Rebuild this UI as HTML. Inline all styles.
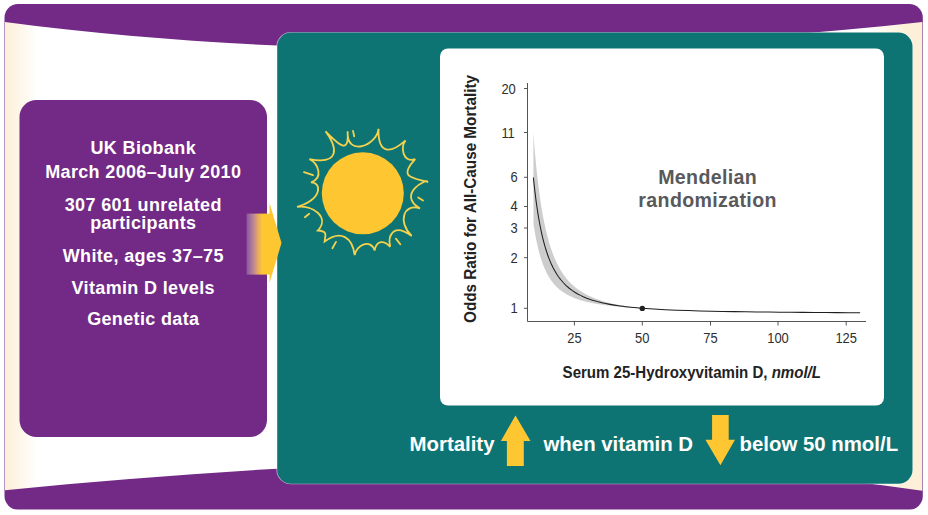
<!DOCTYPE html>
<html><head><meta charset="utf-8">
<style>
html,body{margin:0;padding:0;width:928px;height:515px;overflow:hidden;background:#fff;}
body{position:relative;font-family:"Liberation Sans",sans-serif;}
svg{position:absolute;left:0;top:0;}
.t{position:absolute;white-space:nowrap;font-weight:bold;color:#fff;}
.pt{left:19.5px;width:247.5px;text-align:center;font-size:18px;letter-spacing:0.35px;line-height:20px;}
.bt{font-size:20.4px;line-height:24px;margin-top:1px;}
</style></head><body>
<svg width="928" height="515" viewBox="0 0 928 515">
<defs>
<linearGradient id="pg" x1="5" y1="0" x2="922" y2="0" gradientUnits="userSpaceOnUse">
<stop offset="0" stop-color="#fcefd6"/>
<stop offset="0.035" stop-color="#fff"/>
<stop offset="0.94" stop-color="#fff"/>
<stop offset="0.982" stop-color="#fdf0d8"/>
<stop offset="1" stop-color="#fdf0d8"/>
</linearGradient>
<linearGradient id="ag" x1="246.6" y1="0" x2="266.6" y2="0" gradientUnits="userSpaceOnUse">
<stop offset="0" stop-color="#8c579b"/>
<stop offset="0.3" stop-color="#b4809a"/>
<stop offset="0.58" stop-color="#e8ac5e"/>
<stop offset="0.8" stop-color="#fec732"/>
<stop offset="1" stop-color="#fec732"/>
</linearGradient>
</defs>
<rect x="4.5" y="4" width="918.3" height="505.6" rx="13.5" fill="#722a86"/>
<path d="M5,22 C305,61.4 621.6,54.7 922.3,22 L922.3,490.7 C620.5,445.3 305,460.6 5,490.2 Z" fill="url(#pg)"/>
<rect x="19.5" y="100" width="247.5" height="337" rx="17" fill="#722a86"/>
<rect x="276.4" y="31.9" width="636.5" height="452.4" rx="14.6" fill="#fff" opacity="0.6"/>
<rect x="277.2" y="32.6" width="635.3" height="451.2" rx="14" fill="#0e7373"/>
<rect x="246.6" y="213.6" width="24" height="61" fill="url(#ag)"/>
<path d="M269.5,203 L281.5,243 L269.5,283 Z" fill="#fec732"/>
<rect x="440" y="48.5" width="444" height="357" rx="8" fill="#fff"/>
<circle cx="362.8" cy="193.3" r="41" fill="#fec732"/>
<path d="M325.5,131.3 C339.4,145.4 349.3,154.7 347.6,131.3 C346.3,157.7 377.0,145.4 378.5,128.8 C377.8,157.3 392.8,151.8 405.6,140.4 C399.9,146.9 403.0,163.7 415.2,159.1 C397.7,178.0 413.2,177.8 427.4,181.8 C428.4,177.8 395.7,194.0 420.0,208.5 C403.7,202.7 397.3,221.7 411.7,236.0 C392.3,222.1 387.8,236.7 390.2,246.8 C384.0,240.1 376.5,239.8 374.6,250.6 C370.8,238.3 356.2,244.8 354.7,255.1 C352.4,237.4 341.0,229.3 324.6,241.5 C325.4,234.7 328.0,231.3 317.8,230.5 C330.1,217.3 313.0,204.9 297.0,206.8 C322.8,199.1 321.8,182.3 311.0,182.3 C323.9,178.3 318.2,163.1 309.4,159.1 C340.5,165.0 337.5,147.5 325.5,131.3Z M353,130.9 L354.2,136.3 M418.2,197.5 L423,200.5 M395.9,238.6 L400.3,244.2 M336,241.9 L332.4,248.3 M304.9,217.3 L309.2,213.8 M304,172.2 L313,175.2" fill="none" stroke="#f3d24e" stroke-width="1.8" stroke-linejoin="miter" stroke-miterlimit="3" stroke-linecap="round"/>
<!-- chart -->
<polygon points="533.40,132.60 534.22,144.16 534.92,152.42 535.62,160.10 536.32,167.25 537.02,173.91 537.72,180.13 538.42,185.95 539.12,191.40 539.82,196.52 540.52,201.32 541.22,205.84 541.92,210.10 542.62,214.11 543.32,217.90 544.02,221.47 544.72,224.86 545.42,228.06 546.12,231.10 546.82,233.98 547.52,236.72 548.22,239.32 548.92,241.80 549.62,244.15 550.32,246.40 551.02,248.54 551.72,250.58 552.42,252.53 553.12,254.39 553.82,256.17 554.52,257.88 555.22,259.51 555.92,261.08 556.62,262.58 557.32,264.01 558.02,265.39 558.72,266.72 559.42,267.99 560.12,269.22 560.82,270.40 563.63,274.70 566.44,278.42 569.25,281.65 572.06,284.48 574.87,286.96 577.68,289.17 580.49,291.12 583.30,292.87 586.11,294.44 588.92,295.85 591.73,297.12 594.54,298.27 597.35,299.32 600.16,300.28 602.96,301.16 605.77,301.96 608.58,302.70 611.39,303.38 614.20,304.00 617.01,304.58 619.82,305.12 622.63,305.62 625.44,306.09 628.25,306.52 631.06,306.92 633.87,307.30 636.68,307.66 639.49,307.99 642.30,308.30 642.30,308.30 639.49,308.14 636.68,307.97 633.87,307.78 631.06,307.59 628.25,307.39 625.44,307.18 622.63,306.95 619.82,306.70 617.01,306.44 614.20,306.17 611.39,305.87 608.58,305.54 605.77,305.20 602.96,304.82 600.16,304.41 597.35,303.97 594.54,303.48 591.73,302.95 588.92,302.36 586.11,301.71 583.30,300.99 580.49,300.18 577.68,299.28 574.87,298.27 572.06,297.12 569.25,295.81 566.44,294.31 563.63,292.58 560.82,290.57 560.12,290.01 559.42,289.44 558.72,288.84 558.02,288.22 557.32,287.56 556.62,286.89 555.92,286.18 555.22,285.44 554.52,284.66 553.82,283.85 553.12,283.00 552.42,282.11 551.72,281.18 551.02,280.21 550.32,279.18 549.62,278.10 548.92,276.97 548.22,275.78 547.52,274.52 546.82,273.20 546.12,271.80 545.42,270.32 544.72,268.76 544.02,267.10 543.32,265.35 542.62,263.49 541.92,261.52 541.22,259.42 540.52,257.18 539.82,254.80 539.12,252.25 538.42,249.53 537.72,246.62 537.02,243.49 536.32,240.14 535.62,236.52 534.92,232.63 534.22,228.43 533.52,223.88" fill="#cdcdcd"/>
<polyline points="533.39,177.49 534.09,184.23 534.80,190.48 535.50,196.29 536.20,201.70 536.91,206.75 537.61,211.45 538.31,215.86 539.02,219.99 539.72,223.86 540.42,227.49 541.13,230.91 541.83,234.13 542.53,237.17 543.24,240.03 543.94,242.74 544.64,245.30 545.35,247.72 546.05,250.02 546.75,252.20 547.46,254.27 548.16,256.24 548.86,258.12 549.57,259.90 550.27,261.60 550.97,263.22 551.68,264.76 552.38,266.24 553.08,267.65 553.79,269.00 554.49,270.29 555.19,271.52 555.90,272.71 556.60,273.84 557.30,274.93 558.01,275.97 558.71,276.98 559.41,277.94 560.12,278.87 560.82,279.76 563.63,283.00 566.44,285.81 569.25,288.24 572.06,290.38 574.87,292.26 577.68,293.92 580.49,295.40 583.30,296.72 586.11,297.90 588.92,298.96 591.73,299.92 594.54,300.80 597.35,301.59 600.16,302.31 602.96,302.97 605.77,303.57 608.58,304.13 611.39,304.64 614.20,305.11 617.01,305.54 619.82,305.94 622.63,306.32 625.44,306.66 628.25,306.98 631.06,307.28 633.87,307.56 636.68,307.83 639.49,308.07 642.30,308.30 653.76,309.08 665.23,309.69 676.69,310.19 688.16,310.59 699.62,310.92 711.09,311.20 722.55,311.43 734.02,311.63 745.48,311.81 756.94,311.95 768.41,312.08 779.87,312.20 791.34,312.30 802.80,312.38 814.27,312.46 825.73,312.53 837.19,312.60 848.66,312.65 860.12,312.70" fill="none" stroke="#1e1e1e" stroke-width="1.05"/>
<circle cx="642.3" cy="308.4" r="2.7" fill="#222"/>
<g stroke="#555" stroke-width="1" fill="none">
<path d="M527.5,83 V321.5 H866"/>
<path d="M524,88.5 H527.5 M524,132.5 H527.5 M524,177.3 H527.5 M524,206.5 H527.5 M524,228 H527.5 M524,257.7 H527.5 M524,308.3 H527.5"/>
<path d="M574.4,321.5 V325.5 M642.3,321.5 V325.5 M710.5,321.5 V325.5 M778,321.5 V325.5 M846.2,321.5 V325.5"/>
</g>
<g font-family="Liberation Sans" font-size="15.2" fill="#2e2e2e">
<text transform="translate(515.8,93.6) scale(0.85,1)" text-anchor="end">20</text>
<text transform="translate(514.8,137.8) scale(0.85,1)" text-anchor="end">11</text>
<text transform="translate(517.6,182.2) scale(0.85,1)" text-anchor="end">6</text>
<text transform="translate(517.6,211.4) scale(0.85,1)" text-anchor="end">4</text>
<text transform="translate(517.6,233) scale(0.85,1)" text-anchor="end">3</text>
<text transform="translate(517.6,262.7) scale(0.85,1)" text-anchor="end">2</text>
<text transform="translate(517.6,313.2) scale(0.85,1)" text-anchor="end">1</text>
<text transform="translate(574.4,343.2) scale(0.85,1)" text-anchor="middle">25</text>
<text transform="translate(642.3,343.2) scale(0.85,1)" text-anchor="middle">50</text>
<text transform="translate(710.5,343.2) scale(0.85,1)" text-anchor="middle">75</text>
<text transform="translate(778,343.2) scale(0.85,1)" text-anchor="middle">100</text>
<text transform="translate(846.2,343.2) scale(0.85,1)" text-anchor="middle">125</text>
</g>
<text transform="translate(476,323) rotate(-90)" font-family="Liberation Sans" font-weight="bold" font-size="16" fill="#222" textLength="248" lengthAdjust="spacingAndGlyphs">Odds Ratio for All-Cause Mortality</text>
<text x="562.6" y="378.3" font-family="Liberation Sans" font-weight="bold" font-size="17.2" fill="#222" textLength="258.4" lengthAdjust="spacingAndGlyphs">Serum 25-Hydroxyvitamin D, <tspan font-style="italic">nmol/L</tspan></text>
<g font-family="Liberation Sans" font-weight="bold" font-size="19.6" fill="#59595b" text-anchor="middle" letter-spacing="0.35">
<text x="707.7" y="183.8">Mendelian</text>
<text x="707.6" y="207">randomization</text>
</g>
<!-- bottom arrows -->
<path d="M515.5,415.5 L530.5,441 L523.8,441 L523.8,466 L506.9,466 L506.9,441 L500.9,441 Z" fill="#fec732"/>
<path d="M712.1,415 L728.7,415 L728.7,439.8 L735,439.8 L720.4,465.2 L705.4,439.8 L712.1,439.8 Z" fill="#fec732"/>
</svg>

<div class="t pt" style="top:138px">UK Biobank</div>
<div class="t pt" style="top:162px">March 2006–July 2010</div>
<div class="t pt" style="top:195px">307 601 unrelated</div>
<div class="t pt" style="top:213px">participants</div>
<div class="t pt" style="top:246px">White, ages 37–75</div>
<div class="t pt" style="top:278px">Vitamin D levels</div>
<div class="t pt" style="top:309px">Genetic data</div>

<div class="t bt" style="left:409.5px;top:431px;">Mortality</div>
<div class="t bt" style="left:543.5px;top:431px;">when vitamin D</div>
<div class="t bt" style="left:739.5px;top:431px;">below 50 nmol/L</div>
</body></html>
